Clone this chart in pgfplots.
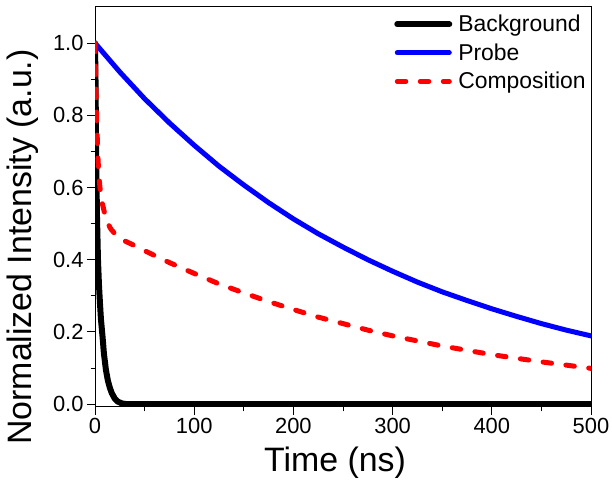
\documentclass[border=0pt]{standalone}
\usepackage{fontspec}
\setmainfont{Liberation Sans}
\usepackage{pgfplots}
\pgfplotsset{compat=1.18}
\begin{document}
\begin{tikzpicture}
\useasboundingbox (0,0) rectangle (612bp,485bp);
\begin{axis}[
  at={(95bp,78bp)}, anchor=south west,
  width=496bp, height=400bp, scale only axis,
  xmin=0, xmax=500, ymin=-0.008, ymax=1.1,
  xtick={0,100,200,300,400,500},
  ytick={0,0.2,0.4,0.6,0.8,1.0},
  minor x tick num=1, minor y tick num=1,
  xtick pos=bottom, ytick pos=left,
  tick align=outside,
  major tick length=8bp, minor tick length=4.5bp,
  every tick/.style={black, line width=1bp},
  axis line style={line width=1bp},
  yticklabel style={/pgf/number format/fixed, /pgf/number format/precision=1, /pgf/number format/fixed zerofill},
  /pgf/number format/assume math mode=true,
  ticklabel style={font=\fontsize{22}{26}\selectfont},
  xlabel={Time (ns)}, ylabel={Normalized Intensity (a.u.)},
  label style={font=\fontsize{34}{38}\selectfont},
  xlabel style={at={(axis description cs:0.484,-0.139)}, anchor=center},
  ylabel style={at={(axis description cs:-0.145,0.40)}, anchor=center},
  legend style={draw=none, fill=none, at={(axis description cs:0.603,0.985)}, anchor=north west,
    font=\fontsize{23}{26}\selectfont, row sep=6.5bp, inner sep=0bp,
    column sep=4bp},
  legend cell align=left,
  legend image code/.code={\draw[#1] (2.5bp,0bp) -- (54.5bp,0bp);},
]
\addplot[black, line width=6bp, line cap=round] coordinates {
(0,1.0) (0.5,0.9) (1,0.75) (1.5,0.62) (2,0.52) (3,0.4) (4,0.33) (5,0.28) (6,0.235)
(7.5,0.19) (9,0.14) (11,0.095) (13,0.065) (15,0.045) (17,0.03) (20,0.015)
(23,0.007) (27,0.002) (32,0) (40,0) (100,0) (200,0) (300,0) (400,0) (500,0)};
\addlegendentry{Background}
\addplot[blue, line width=5bp, line cap=round] coordinates {
(0,1.0) (25,0.920) (50,0.846) (75,0.779) (100,0.717) (125,0.659) (150,0.607)
(175,0.558) (200,0.513) (225,0.472) (250,0.435) (275,0.400) (300,0.368)
(325,0.338) (350,0.311) (375,0.287) (400,0.264) (425,0.243) (450,0.223)
(475,0.205) (500,0.189)};
\addlegendentry{Probe}
\addplot[red, line width=5bp, line cap=round, dash pattern=on 8.5bp off 14.5bp] coordinates {
(0,1.0) (1,0.86) (2,0.76) (3,0.68) (4,0.63) (5,0.60) (7,0.56) (10,0.525)
(13,0.50) (16,0.485) (20,0.472) (25,0.46) (30,0.452) (40,0.439) (50,0.425)
(75,0.392) (100,0.362) (125,0.333) (150,0.308) (175,0.284) (200,0.262)
(225,0.241) (250,0.223) (275,0.205) (300,0.189) (325,0.175) (350,0.161)
(375,0.149) (400,0.137) (425,0.127) (450,0.117) (475,0.108) (500,0.099)};
\addlegendentry{Composition}
\end{axis}
\end{tikzpicture}
\end{document}
